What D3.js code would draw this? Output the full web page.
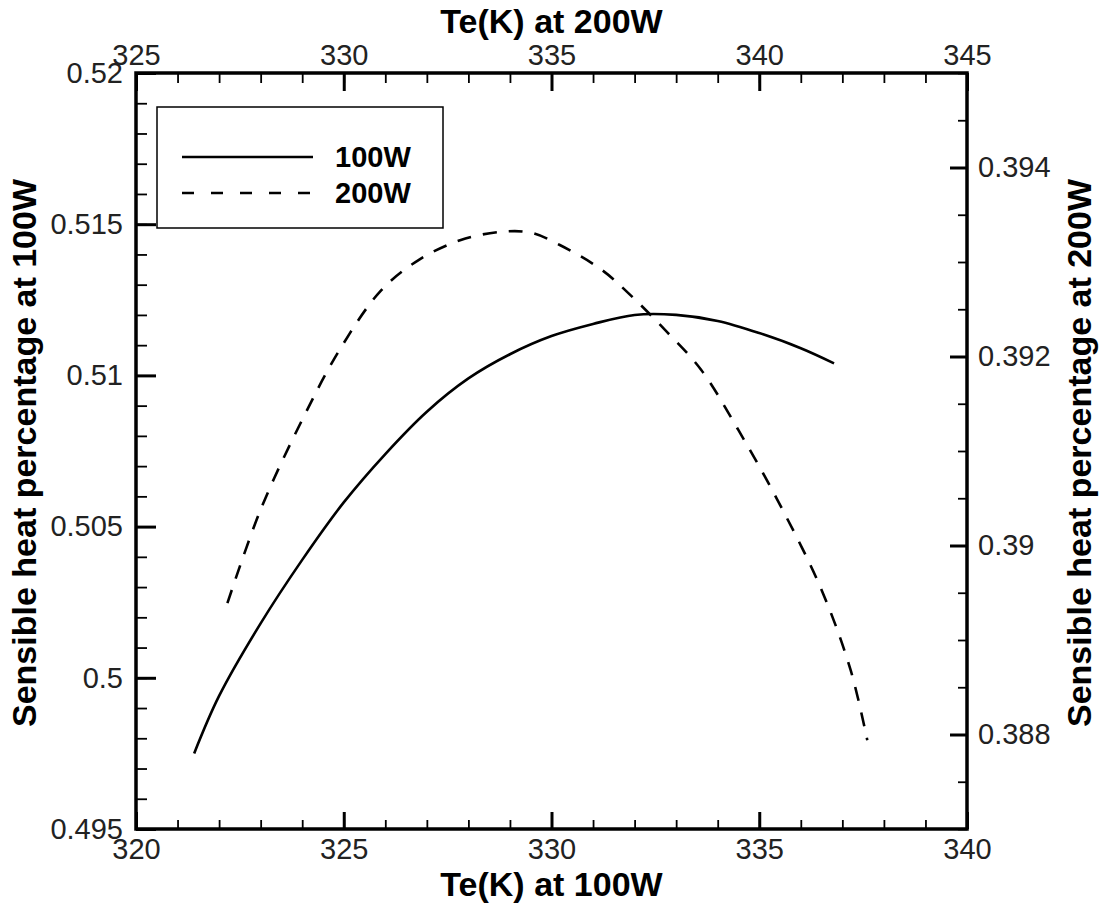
<!DOCTYPE html>
<html>
<head>
<meta charset="utf-8">
<script src="https://cdn.jsdelivr.net/npm/d3@7"></script>
<style>
  html, body { margin: 0; padding: 0; background: #fff; }
  svg { display: block; }
  .tick text { font-family: "Liberation Sans", Arial, sans-serif; font-size: 29px; fill: #222; }
  .title { font-family: "Liberation Sans", Arial, sans-serif; font-weight: bold; font-size: 34px; fill: #000; }
  .legend-text { font-family: "Liberation Sans", Arial, sans-serif; font-weight: bold; font-size: 29px; fill: #000; }
</style>
</head>
<body>
<svg id="chart" width="1104" height="904"></svg>
<script>
// Sensible heat percentage versus evaporator temperature, 100 W (bottom/left axes)
const te100 = [321.4, 322, 323, 324, 325, 326, 327, 328, 329, 330, 331, 332, 333, 334, 335, 336, 336.8];
const sh100 = [0.4975, 0.4994, 0.5018, 0.5039, 0.5058, 0.5074, 0.5088, 0.5099, 0.5107, 0.5113, 0.5117, 0.5120, 0.5120, 0.5118, 0.5114, 0.5109, 0.5104];

// 200 W series (top/right axes)
const te200 = [327.2, 328.0, 329.0, 329.9, 330.9, 331.8, 332.8, 333.8, 334.5, 335.2, 336.2, 336.9, 337.8, 338.6, 339.5, 340.5, 341.5, 342.2, 342.6];
const sh200 = [0.38939, 0.39038, 0.39133, 0.39207, 0.39270, 0.39302, 0.39323, 0.39332, 0.39331, 0.39318, 0.39292, 0.39265, 0.39225, 0.39186, 0.39122, 0.39043, 0.38953, 0.38868, 0.38794];

// Axis ticks and labels
const bottomMajor = [320, 325, 330, 335, 340];
const bottomLabels = ["320", "325", "330", "335", "340"];
const topMajor = [325, 330, 335, 340, 345];
const topLabels = ["325", "330", "335", "340", "345"];
const leftMajor = [0.495, 0.5, 0.505, 0.51, 0.515, 0.52];
const leftLabels = ["0.495", "0.5", "0.505", "0.51", "0.515", "0.52"];
const rightMajor = [0.388, 0.39, 0.392, 0.394];
const rightLabels = ["0.388", "0.39", "0.392", "0.394"];

const seriesNames = ["100W", "200W"];
const axisTitles = ["Te(K) at 100W", "Te(K) at 200W", "Sensible heat percentage at 100W", "Sensible heat percentage at 200W"];

const L = 136, R = 967, T = 73, B = 829;
const svg = d3.select("#chart");

const xBottom = d3.scaleLinear().domain([320, 340]).range([L, R]);
const xTop = d3.scaleLinear().domain([325, 345]).range([L, R]);
const yLeft = d3.scaleLinear().domain([0.495, 0.52]).range([B, T]);
const yRight = d3.scaleLinear().domain([0.387, 0.395]).range([B, T]);

const range = (a, b, s) => d3.range(Math.round((b - a) / s) + 1).map(i => +(a + i * s).toFixed(6));

function styleAxis(g, w) {
  g.select(".domain").remove();
  g.selectAll(".tick line").attr("stroke", "#000").attr("stroke-width", w);
}

// minor ticks
svg.append("g").attr("transform", `translate(0,${B})`)
  .call(d3.axisBottom(xBottom).tickValues(range(320, 340, 1)).tickSize(-9).tickFormat(""))
  .call(g => styleAxis(g, 1.8));
svg.append("g").attr("transform", `translate(0,${T})`)
  .call(d3.axisTop(xTop).tickValues(range(325, 345, 1)).tickSize(-10).tickFormat(""))
  .call(g => styleAxis(g, 1.8));
svg.append("g").attr("transform", `translate(${L},0)`)
  .call(d3.axisLeft(yLeft).tickValues(range(0.495, 0.52, 0.001)).tickSize(-11).tickFormat(""))
  .call(g => styleAxis(g, 1.8));
svg.append("g").attr("transform", `translate(${R},0)`)
  .call(d3.axisRight(yRight).tickValues(range(0.387, 0.395, 0.0005)).tickSize(-9).tickFormat(""))
  .call(g => styleAxis(g, 1.8));

// major ticks with labels
svg.append("g").attr("transform", `translate(0,${B})`)
  .call(d3.axisBottom(xBottom).tickValues(bottomMajor).tickSize(-17).tickPadding(9)
    .tickFormat((d, i) => bottomLabels[i]))
  .call(g => styleAxis(g, 3));
svg.append("g").attr("transform", `translate(0,${T})`)
  .call(d3.axisTop(xTop).tickValues(topMajor).tickSize(-18).tickPadding(8)
    .tickFormat((d, i) => topLabels[i]))
  .call(g => styleAxis(g, 3));
svg.append("g").attr("transform", `translate(${L},0)`)
  .call(d3.axisLeft(yLeft).tickValues(leftMajor).tickSize(-20).tickPadding(13)
    .tickFormat((d, i) => leftLabels[i]))
  .call(g => styleAxis(g, 3));
svg.append("g").attr("transform", `translate(${R},0)`)
  .call(d3.axisRight(yRight).tickValues(rightMajor).tickSize(-17).tickPadding(11)
    .tickFormat((d, i) => rightLabels[i]))
  .call(g => styleAxis(g, 3));

svg.selectAll(".tick text").attr("font-family", null).attr("font-size", null).attr("fill", null);

// frame
svg.append("rect").attr("x", L).attr("y", T).attr("width", R - L).attr("height", B - T)
  .attr("fill", "none").attr("stroke", "#000").attr("stroke-width", 3.5);

// curves
const line100 = d3.line().x((d, i) => xBottom(te100[i])).y(d => yLeft(d)).curve(d3.curveCatmullRom);
const line200 = d3.line().x((d, i) => xTop(te200[i])).y(d => yRight(d)).curve(d3.curveCatmullRom);

svg.append("path").attr("d", line100(sh100)).attr("fill", "none")
  .attr("stroke", "#000").attr("stroke-width", 2.6);
svg.append("path").attr("d", line200(sh200)).attr("fill", "none")
  .attr("stroke", "#000").attr("stroke-width", 2.6).attr("stroke-dasharray", "14,12");

// legend
const lg = svg.append("g");
lg.append("rect").attr("x", 157).attr("y", 107).attr("width", 286).attr("height", 121)
  .attr("fill", "#fff").attr("stroke", "#000").attr("stroke-width", 1.5);
lg.append("line").attr("x1", 182).attr("x2", 313).attr("y1", 157).attr("y2", 157)
  .attr("stroke", "#000").attr("stroke-width", 2.6);
lg.append("line").attr("x1", 182).attr("x2", 313).attr("y1", 193).attr("y2", 193)
  .attr("stroke", "#000").attr("stroke-width", 2.6).attr("stroke-dasharray", "12,17");
lg.append("text").attr("class", "legend-text").attr("x", 335).attr("y", 167).text(seriesNames[0]);
lg.append("text").attr("class", "legend-text").attr("x", 335).attr("y", 203).text(seriesNames[1]);

// axis titles
const cx = (L + R) / 2;
svg.append("text").attr("class", "title").attr("x", cx).attr("y", 896)
  .attr("text-anchor", "middle").text(axisTitles[0]);
svg.append("text").attr("class", "title").attr("x", cx).attr("y", 33)
  .attr("text-anchor", "middle").text(axisTitles[1]);
svg.append("text").attr("class", "title").attr("text-anchor", "middle")
  .attr("transform", `translate(36,${(T + B) / 2 + 2}) rotate(-90)`).text(axisTitles[2]);
svg.append("text").attr("class", "title").attr("text-anchor", "middle")
  .attr("transform", `translate(1091,${(T + B) / 2 + 2}) rotate(-90)`).text(axisTitles[3]);
</script>
</body>
</html>
